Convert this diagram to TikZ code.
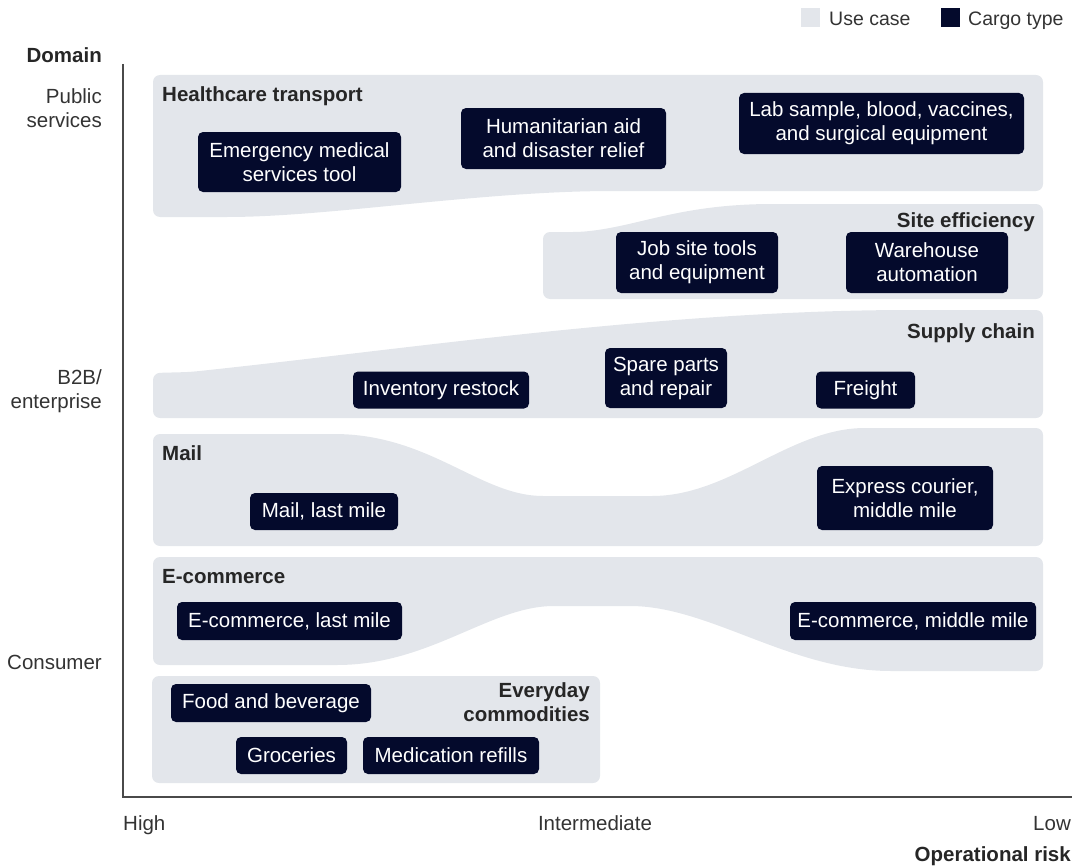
\documentclass[tikz,border=0pt]{standalone}
\usepackage{fontspec}
\setmainfont{Liberation Sans}
\usetikzlibrary{positioning}
\definecolor{usecase}{HTML}{E3E6EB}
\definecolor{cargo}{HTML}{040A2C}
\definecolor{axisgray}{HTML}{4A4A4A}
\tikzset{
  band/.style={fill=usecase, rounded corners=7pt},
  cargo box/.style={fill=cargo, text=white, rounded corners=5pt,
    align=center, inner sep=0pt},
  case label/.style={font=\fontsize{20.5}{24}\selectfont\bfseries,
    text=black!85, inner sep=0pt, align=right},
  axis label/.style={text=black!80, inner sep=0pt, align=right},
  key/.style={minimum size=19pt, inner sep=0pt}
}
\begin{document}
\begin{tikzpicture}[x=1pt, y=-1pt, font=\fontsize{20.5}{24}\selectfont]
\useasboundingbox (0,0) rectangle (1082,867);
\coordinate (top) at (123,64);
\coordinate (origin) at (123,797);
\coordinate (end) at (1072,797);
\fill[band] (153,75) -- (1043,75) -- (1043,191) -- (620,191)
  .. controls (480,191) and (330,217) .. (220,217) -- (153,217) -- cycle;
\fill[band] (543,232) -- (580,232) .. controls (640,226) and (680,204) .. (780,204)
  -- (1043,204) -- (1043,299) -- (543,299) -- cycle;
\fill[band] (153,373) -- (190,372) .. controls (400,350) and (650,312) .. (900,310)
  -- (1043,310) -- (1043,418) -- (153,418) -- cycle;
\fill[band] (153,434) -- (327,434) .. controls (430,434) and (480,496) .. (550,496)
  -- (645,496) .. controls (730,496) and (790,428) .. (872,428)
  -- (1043,428) -- (1043,546) -- (153,546) -- cycle;
\fill[band] (153,557) -- (1043,557) -- (1043,671) -- (898,671)
  .. controls (790,671) and (710,606) .. (623,606) -- (561,606)
  .. controls (490,606) and (430,665) .. (330,665) -- (153,665) -- cycle;
\fill[band] (152,676) rectangle (600,783);
\draw[axisgray, line width=1.1pt] (top) -- (origin) -- (end);
\foreach \k/\x/\y/\w/\h/\txt in {%
  ems/299.5/162/203/60/{Emergency medical\\services tool},
  aid/563.5/138.5/205/61/{Humanitarian aid\\and disaster relief},
  lab/881.5/123.5/285/61/{Lab sample, blood, vaccines,\\and surgical equipment},
  jobsite/697/262.5/162/61/{Job site tools\\and equipment},
  warehouse/927/262.5/162/61/{Warehouse\\automation},
  inventory/441/390/176/37/{Inventory restock},
  spares/666/378/122/60/{Spare parts\\and repair},
  freight/865.5/390/99/37/{Freight},
  maillast/324/511.5/148/37/{Mail, last mile},
  express/905/498/176/64/{Express courier,\\middle mile},
  ecomlast/289.5/621/225/38/{E-commerce, last mile},
  ecommiddle/913/621/246/38/{E-commerce, middle mile},
  food/271/703/200/38/{Food and beverage},
  groceries/291.5/755.5/111/37/{Groceries},
  medication/451/755.5/176/37/{Medication refills}%
} {
  \node[cargo box, minimum width=\w, minimum height=\h] (\k) at (\x,\y) {\txt};
}
\node[case label, anchor=base west] (health) at (162,102) {Healthcare transport};
\node[case label, anchor=base east] (site) at (1035,227) {Site efficiency};
\node[case label, anchor=base east] (supply) at (1035,338) {Supply chain};
\node[case label, anchor=base west] (mail) at (162,460) {Mail};
\node[case label, anchor=base west] (ecom) at (162,583) {E-commerce};
\node[case label, anchor=base east] (everyday) at (590,721) {Everyday\\commodities};
\node[case label, anchor=base east] (domain) at (102,63) {Domain};
\node[axis label, anchor=base east] (public) at (102,127) {Public\\services};
\node[axis label, anchor=base east] (btob) at (102,408) {B2B/\\enterprise};
\node[axis label, anchor=base east] (consumer) at (102,669) {Consumer};
\node[axis label, anchor=base west] (high) at (123,830) {High};
\node[axis label, anchor=base] (mid) at (595,830) {Intermediate};
\node[axis label, anchor=base east] (low) at (1071,830) {Low};
\node[case label, anchor=base east] (risk) at (1071,861) {Operational risk};
\node[key, fill=usecase] (uckey) at (810,17.5) {};
\node[axis label, font=\fontsize{19.5}{24}\selectfont, anchor=base west] (uctext) at (829,25.5) {Use case};
\node[key, fill=cargo] (cargokey) at (950,17.5) {};
\node[axis label, font=\fontsize{19.5}{24}\selectfont, anchor=base west] (cargotext) at (968,25.5) {Cargo type};
\end{tikzpicture}
\end{document}
